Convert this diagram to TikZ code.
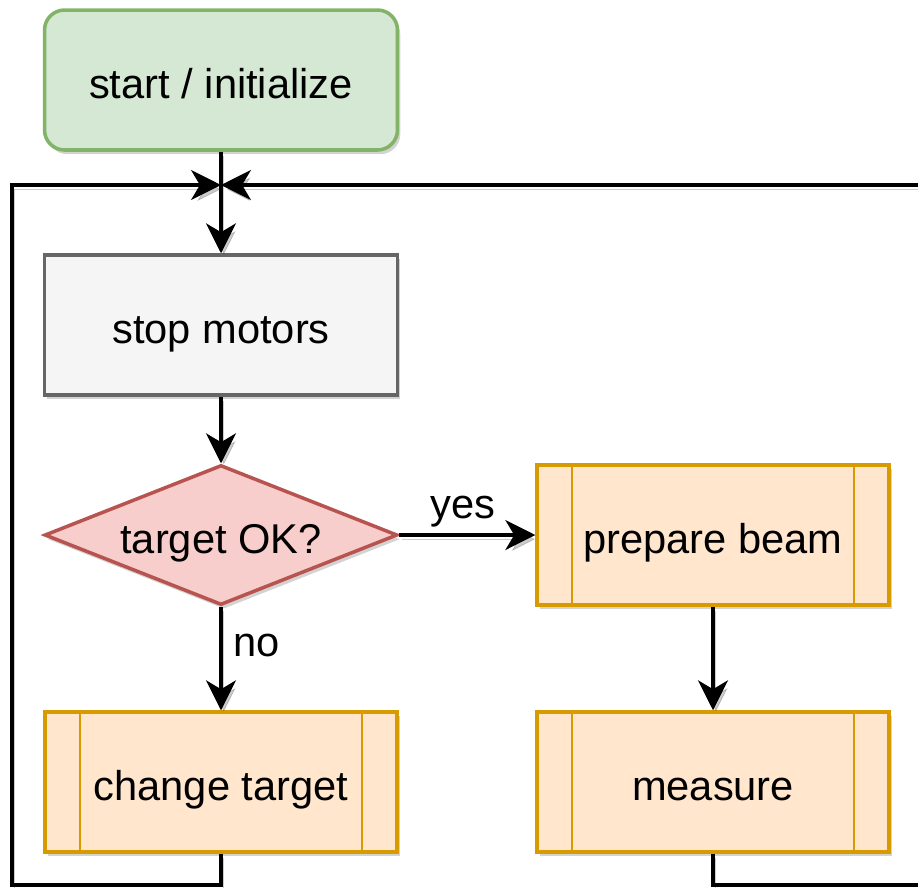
\documentclass[tikz,border=0pt]{standalone}
\usepackage{fontspec}
\setmainfont{Liberation Sans}
\usetikzlibrary{shapes.geometric,arrows.meta,shadows}

\definecolor{startfill}{HTML}{D5E8D4}
\definecolor{startline}{HTML}{82B366}
\definecolor{stopfill}{HTML}{F5F5F5}
\definecolor{stopline}{HTML}{666666}
\definecolor{askfill}{HTML}{F8CECC}
\definecolor{askline}{HTML}{B85450}
\definecolor{procfill}{HTML}{FFE6CC}
\definecolor{procline}{HTML}{D79B00}

\begin{document}
\begin{tikzpicture}[x=0.02cm,y=-0.02cm,
    every node/.style={font=\fontsize{23.7pt}{28pt}\selectfont},
    boxtext/.style={text height=22pt,text depth=0.4pt},
    shade box/.style={drop shadow={opacity=0.35,shadow xshift=1.6pt,shadow yshift=-2.4pt}},
    block/.style={draw,line width=2pt,minimum width=7.06cm,minimum height=2.8cm,boxtext,shade box},
    startbox/.style={block,rounded corners=0.4cm,fill=startfill,draw=startline},
    stopbox/.style={block,fill=stopfill,draw=stopline},
    askbox/.style={diamond,draw=askline,fill=askfill,line width=2pt,aspect=2.52,
      minimum width=7.06cm,minimum height=2.8cm,inner sep=0pt,boxtext,shade box},
    subproc/.style={block,fill=procfill,draw=procline,minimum width=7.04cm,
      path picture={
        \draw[procline,line width=1.3pt]
          ([xshift=0.7cm]path picture bounding box.north west) -- ([xshift=0.7cm]path picture bounding box.south west)
          ([xshift=-0.7cm]path picture bounding box.north east) -- ([xshift=-0.7cm]path picture bounding box.south east);
      }},
    flow/.style={line width=2pt,-{Stealth[length=17pt,width=17pt,inset=5pt]},
      preaction={draw=black,opacity=0.2,transform canvas={xshift=1.6pt,yshift=-2.4pt}}}
  ]
  \clip (0,0) rectangle (918,887);

  % the boxes
  \node[startbox] (start) at (221,80) {start / initialize};
  \node[stopbox] (stop) at (221,325) {stop motors};
  \node[askbox] (check) at (221,535) {target OK?};
  \node[subproc] (beam) at (713,535) {prepare beam};
  \node[subproc] (change) at (221,782) {change target};
  \node[subproc] (measure) at (713,782) {measure};

  % corners of the two return loops
  \coordinate (merge) at (221,185);
  \coordinate (leftfoot) at (12,885);
  \coordinate (rightfoot) at (945,885);

  \draw[flow] (start) -- (stop);
  \draw[flow] (stop) -- (check);
  \draw[flow] (check) -- node[above,inner sep=5pt,yshift=-1.4pt,xshift=-2.5pt] {yes} (beam);
  \draw[flow] (check) -- node[pos=0.37,right,inner sep=0pt,xshift=6pt,fill=white] {no} (change);
  \draw[flow] (beam) -- (measure);
  \draw[flow] (change.south) |- (leftfoot) |- (merge);
  \draw[flow] (measure.south) |- (rightfoot) |- (merge);
\end{tikzpicture}
\end{document}
